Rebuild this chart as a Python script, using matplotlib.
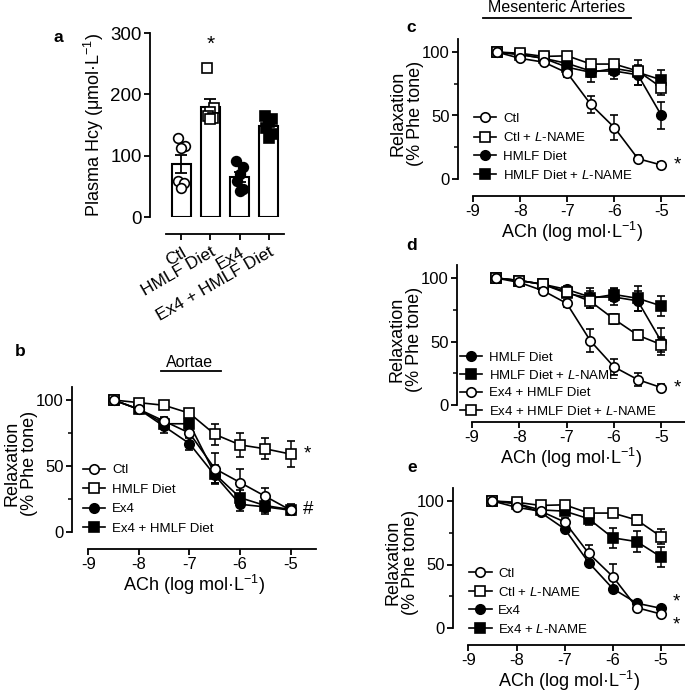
import numpy as np
import matplotlib
matplotlib.use("Agg")
import matplotlib.pyplot as plt
from matplotlib.lines import Line2D

plt.rcParams['font.family'] = ['Liberation Sans', 'DejaVu Sans']
plt.rcParams['mathtext.fontset'] = 'custom'
plt.rcParams['mathtext.rm'] = 'Liberation Sans'
plt.rcParams['mathtext.it'] = 'Liberation Sans:italic'
plt.rcParams['axes.unicode_minus'] = False

# ---------------- data ----------------
# panel a
hcy_groups = ["Ctl", "HMLF Diet", "Ex4", "Ex4 + HMLF Diet"]
hcy_ctl = [128, 116, 112, 58, 55, 48]
hcy_hmlf = [243, 178, 172, 165, 162, 160]
hcy_ex4 = [92, 82, 70, 58, 45, 42]
hcy_ex4_hmlf = [165, 160, 155, 145, 135, 128]
hcy_sem = [15, 12, 8, 7]

# concentration-response (log M)
ach = [-8.5, -8, -7.5, -7, -6.5, -6, -5.5, -5]
xticks_cr = [-9, -8, -7, -6, -5]

# panel b (aortae)
b_ctl = [100, 93, 84, 75, 48, 37.5, 27, 16.5]
b_ctl_err = [0, 1.5, 3, 4, 12, 10, 6, 3]
b_hmlf = [100, 98, 96, 90, 74, 66, 63, 59]
b_hmlf_err = [0, 1.5, 2, 3, 8, 9, 8, 10]
b_ex4 = [100, 93, 80, 67, 43, 21, 19, 16.5]
b_ex4_err = [0, 1.5, 5, 5, 6, 5, 5, 3]
b_ex4_hmlf = [100, 93, 82, 82, 44, 26, 20, 17]
b_ex4_hmlf_err = [0, 1.5, 4, 4, 7, 6, 5, 4]

# mesenteric arteries
m_ctl = [100, 95, 92, 83.5, 58.7, 40.5, 16, 11]
m_ctl_err = [0, 1.5, 2, 3, 7, 10, 3, 2]
m_ctl_lname = [100, 99, 96.5, 97, 90.5, 90.5, 85, 72]
m_ctl_lname_err = [0, 1, 2, 2, 3, 3, 4, 6]
m_hmlf = [100, 98, 95, 91, 85, 85, 82, 50]
m_hmlf_err = [0, 1, 2, 3, 5, 6, 8, 11]
m_hmlf_lname = [100, 98, 95, 88, 84, 87, 84, 78]
m_hmlf_lname_err = [0, 1, 2, 3, 8, 5, 10, 8]
m_ex4_hmlf = [100, 96.5, 90, 80, 50.5, 30, 20, 13.7]
m_ex4_hmlf_err = [0, 1.5, 2, 3, 9, 6, 5, 3]
m_ex4_hmlf_lname = [100, 98, 95, 89, 81.6, 67.6, 55, 47.5]
m_ex4_hmlf_lname_err = [0, 1, 2, 3, 5, 4, 4, 6]
m_ex4 = [100, 98, 91, 78, 51.5, 31, 19.5, 15.5]
m_ex4_err = [0, 1, 2, 2, 2, 2, 2, 2]
m_ex4_lname = [100, 98, 93, 92, 86, 71, 68, 56]
m_ex4_lname_err = [0, 1, 2, 3, 5, 8, 8, 8]

W, H = 685, 692
fig = plt.figure(figsize=(W / 100, H / 100), dpi=100)

def px_axes(left, right, bottom_px, top_px):
    ax = fig.add_axes([left / W, 1 - bottom_px / H, (right - left) / W, (bottom_px - top_px) / H])
    ax._wpx = right - left
    return ax

TICK_FS = 12
LAB_FS = 13
LEG_FS = 9.5
MS = 6.8

def style_cr(ax):
    ax.set_xlim(-9.32, -4.5)
    ax.set_ylim(0, 110)
    for s in ['top', 'right']:
        ax.spines[s].set_visible(False)
    ax.spines['bottom'].set_position(('outward', 12))
    ax.spines['bottom'].set_bounds(-9, -4.5)
    ax.spines['left'].set_bounds(0, 110)
    for s in ['left', 'bottom']:
        ax.spines[s].set_linewidth(1.3)
    ax.set_xticks(xticks_cr)
    ax.set_xticklabels([str(v) for v in xticks_cr])
    ax.set_yticks([0, 50, 100])
    ax.set_yticks([25, 75], minor=True)
    ax.tick_params(axis='both', which='major', length=4, width=1.3, labelsize=TICK_FS, pad=2)
    ax.tick_params(axis='y', which='minor', length=3, width=1.1)
    ax.set_xlabel('ACh (log mol·L$^{-1}$)', fontsize=LAB_FS, labelpad=1)
    ax.set_ylabel('Relaxation\n(% Phe tone)', fontsize=LAB_FS, linespacing=1.05)
    ax.yaxis.set_label_coords(-34 / ax._wpx, 0.47)

def series(ax, y, err, marker, filled, label, z):
    fc = 'black' if filled else 'white'
    ax.errorbar(ach, y, yerr=err, color='black', lw=1.2, marker=marker, ms=MS,
                mfc=fc, mec='black', mew=1.2, capsize=3.2, elinewidth=1.1,
                capthick=1.1, zorder=z, clip_on=False)
    return Line2D([], [], color='black', lw=1.2, marker=marker, ms=MS, mfc=fc,
                  mec='black', mew=1.2, label=label)

def legend(ax, handles, x0, y0, sp):
    return ax.legend(handles=handles, loc='lower left', bbox_to_anchor=(x0, y0), frameon=False,
                     fontsize=LEG_FS, handlelength=1.7, handletextpad=0.5,
                     labelspacing=sp, borderpad=0, borderaxespad=0)

def star(ax, y, dy=0, txt='*'):
    ax.text(ach[-1] + 0.25, y + dy, txt, fontsize=13.5, va='center', ha='left')

# ---------------- panel a ----------------
axa = px_axes(150, 284, 217, 33)
xa = np.arange(len(hcy_groups))
pts = [hcy_ctl, hcy_hmlf, hcy_ex4, hcy_ex4_hmlf]
means = [np.mean(p) for p in pts]
axa.bar(xa, means, width=0.66, color='white', edgecolor='black', lw=1.5, zorder=1)
axa.errorbar(xa, means, yerr=hcy_sem, fmt='none', ecolor='black', elinewidth=1.3,
             capsize=4, capthick=1.3, zorder=2)
jit = np.array([-0.12, 0.12, 0.0, -0.1, 0.1, 0.0])
mk = [('o', 'white'), ('s', 'white'), ('o', 'black'), ('s', 'black')]
for i, p in enumerate(pts):
    axa.plot(xa[i] + jit[:len(p)], p, ls='none', marker=mk[i][0], mfc=mk[i][1],
             mec='black', mew=1.2, ms=7, zorder=3, clip_on=False)
axa.text(xa[1], max(hcy_hmlf) + 38, '*', fontsize=15, ha='center', va='center')
axa.set_xlim(-1.07, 3.52)
axa.set_ylim(0, 300)
for s in ['top', 'right']:
    axa.spines[s].set_visible(False)
axa.spines['bottom'].set_position(('outward', 12))
axa.spines['bottom'].set_bounds(-0.52, 3.52)
for s in ['left', 'bottom']:
    axa.spines[s].set_linewidth(1.3)
axa.set_yticks([0, 100, 200, 300])
axa.set_xticks(xa)
axa.set_xticklabels(hcy_groups, rotation=30, ha='right', rotation_mode='anchor')
axa.tick_params(axis='y', length=4, width=1.3, labelsize=13.5, pad=2)
axa.tick_params(axis='x', length=4, width=1.3, labelsize=12.5, pad=4)
axa.set_ylabel('Plasma Hcy (μmol·L$^{-1}$)', fontsize=13, labelpad=3)
fig.text(58 / W, 1 - 37 / H, 'a', fontsize=12.5, fontweight='bold', ha='center', va='center')

# ---------------- panel b ----------------
axb = px_axes(72, 316, 532, 386.8)
hb = [series(axb, b_ctl, b_ctl_err, 'o', False, 'Ctl', 6),
      series(axb, b_hmlf, b_hmlf_err, 's', False, 'HMLF Diet', 5),
      series(axb, b_ex4, b_ex4_err, 'o', True, 'Ex4', 4),
      series(axb, b_ex4_hmlf, b_ex4_hmlf_err, 's', True, 'Ex4 + HMLF Diet', 3)]
style_cr(axb)
legend(axb, hb, 0.045, -0.02, 0.55)
star(axb, b_hmlf[-1])
star(axb, b_ex4_hmlf[-1], txt='#')
axb.text(-7.0, 1.0 + 24 / 145, 'Aortae', transform=axb.get_xaxis_transform(),
         fontsize=11.5, ha='center', va='center')
axb.add_line(Line2D([-7.57, -6.38], [1.0 + 16 / 145] * 2, transform=axb.get_xaxis_transform(),
                    color='black', lw=1.3, clip_on=False))
fig.text(20 / W, 1 - 352 / H, 'b', fontsize=12.5, fontweight='bold', ha='center', va='center')

# ---------------- panel c ----------------
axc = px_axes(458, 685, 179, 39.3)
hc = [series(axc, m_ctl, m_ctl_err, 'o', False, 'Ctl', 6),
      series(axc, m_ctl_lname, m_ctl_lname_err, 's', False, r'Ctl + $\it{L}$-NAME', 5),
      series(axc, m_hmlf, m_hmlf_err, 'o', True, 'HMLF Diet', 4),
      series(axc, m_hmlf_lname, m_hmlf_lname_err, 's', True, r'HMLF Diet + $\it{L}$-NAME', 3)]
style_cr(axc)
legend(axc, hc, 0.07, -0.02, 0.47)
star(axc, m_ctl[-1])
fig.text(557 / W, 1 - 8 / H, 'Mesenteric Arteries', fontsize=11.5, ha='center', va='center')
fig.add_artist(Line2D([483 / W, 631 / W], [1 - 18 / H] * 2, color='black', lw=1.3))
fig.text(411 / W, 1 - 27 / H, 'c', fontsize=12.5, fontweight='bold', ha='center', va='center')

# ---------------- panel d ----------------
axd = px_axes(457, 685, 405, 265.3)
hd = [series(axd, m_hmlf, m_hmlf_err, 'o', True, 'HMLF Diet', 4),
      series(axd, m_hmlf_lname, m_hmlf_lname_err, 's', True, r'HMLF Diet + $\it{L}$-NAME', 3),
      series(axd, m_ex4_hmlf, m_ex4_hmlf_err, 'o', False, 'Ex4 + HMLF Diet', 6),
      series(axd, m_ex4_hmlf_lname, m_ex4_hmlf_lname_err, 's', False, r'Ex4 + HMLF Diet + $\it{L}$-NAME', 5)]
style_cr(axd)
legend(axd, hd, 0.012, -0.09, 0.39)
star(axd, m_ex4_hmlf[-1])
fig.text(412 / W, 1 - 245 / H, 'd', fontsize=12.5, fontweight='bold', ha='center', va='center')

# ---------------- panel e ----------------
axe = px_axes(453, 685, 628, 488.3)
he = [series(axe, m_ctl, m_ctl_err, 'o', False, 'Ctl', 6),
      series(axe, m_ctl_lname, m_ctl_lname_err, 's', False, r'Ctl + $\it{L}$-NAME', 5),
      series(axe, m_ex4, m_ex4_err, 'o', True, 'Ex4', 4),
      series(axe, m_ex4_lname, m_ex4_lname_err, 's', True, r'Ex4 + $\it{L}$-NAME', 3)]
style_cr(axe)
legend(axe, he, 0.07, -0.056, 0.45)
star(axe, m_ex4[-1], dy=5)
star(axe, m_ctl[-1], dy=-9)
fig.text(412 / W, 1 - 468 / H, 'e', fontsize=12.5, fontweight='bold', ha='center', va='center')

fig.savefig('out.png', dpi=100)
